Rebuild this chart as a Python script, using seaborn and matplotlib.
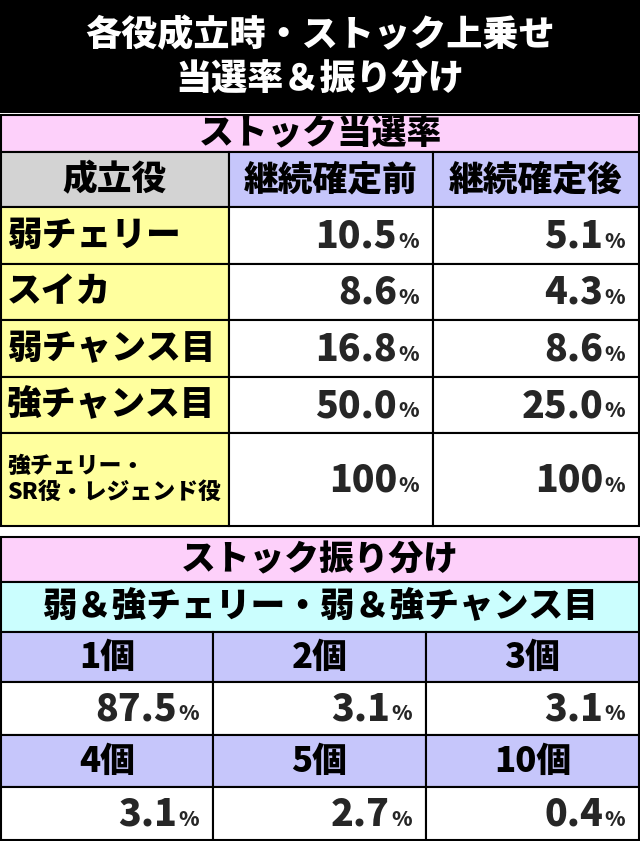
import matplotlib
matplotlib.use("Agg")
import matplotlib.pyplot as plt
import seaborn as sns
from matplotlib.patches import Rectangle

sns.set_theme(style="white")
plt.rcParams['font.family'] = ['Noto Sans CJK JP', 'DejaVu Sans']

title_lines = ["各役成立時・ストック上乗せ", "当選率＆振り分け"]
rate_header = ["成立役", "継続確定前", "継続確定後"]
roles = ["弱チェリー", "スイカ", "弱チャンス目", "強チャンス目", "強チェリー・\nSR役・レジェンド役"]
rate_before = ["10.5", "8.6", "16.8", "50.0", "100"]
rate_after = ["5.1", "4.3", "8.6", "25.0", "100"]
stock_labels = ["1個", "2個", "3個", "4個", "5個", "10個"]
stock_values = ["87.5", "3.1", "3.1", "3.1", "2.7", "0.4"]

PINK, GRAY, LAV, YEL, CYAN = "#fdd0fa", "#d3d3d3", "#c6c6fb", "#ffff9e", "#cbfefe"

fig = plt.figure(figsize=(6.4, 8.41), dpi=100)
ax = fig.add_axes([0, 0, 1, 1])
ax.set_xlim(0, 640)
ax.set_ylim(841, 0)
ax.axis("off")


def cell(x0, y0, x1, y1, color, text=None, size=25, ha="center", pad=8):
    ax.add_patch(Rectangle((x0, y0), x1 - x0, y1 - y0, facecolor=color,
                           edgecolor="black", linewidth=1.5))
    if text is not None:
        tx = (x0 + x1) / 2 if ha == "center" else x0 + pad
        ax.text(tx, (y0 + y1) / 2, text, ha=ha, va="center", fontsize=size,
                fontweight="black", color="black", linespacing=1.15)


def pct(x1, y0, y1, val):
    ym = (y0 + y1) / 2
    ax.text(x1 - 36, ym + 1, val, ha="right", va="center", fontsize=27, fontweight="black")
    ax.text(x1 - 35, ym + 6, "%", ha="left", va="center", fontsize=15, fontweight="black")


# title band
ax.add_patch(Rectangle((0, 0), 640, 113, facecolor="black", edgecolor="none"))
ax.text(320, 35, title_lines[0], ha="center", va="center", fontsize=26, fontweight="black", color="white")
ax.text(320, 80, title_lines[1], ha="center", va="center", fontsize=26, fontweight="black", color="white")

# stock rate table
cell(1, 115, 639, 152, PINK, "ストック当選率", 25)
cols = [1, 229, 433, 639]
cell(cols[0], 152, cols[1], 207, GRAY, rate_header[0], 25)
cell(cols[1], 152, cols[2], 207, LAV, rate_header[1], 25)
cell(cols[2], 152, cols[3], 207, LAV, rate_header[2], 25)

row_edges = [207, 264, 320, 377, 433, 526]
for i, role in enumerate(roles):
    y0, y1 = row_edges[i], row_edges[i + 1]
    small = "\n" in role
    cell(cols[0], y0, cols[1], y1, YEL, role, 16.5 if small else 25, ha="left", pad=6)
    cell(cols[1], y0, cols[2], y1, "white")
    cell(cols[2], y0, cols[3], y1, "white")
    pct(cols[2], y0, y1, rate_before[i])
    pct(cols[3], y0, y1, rate_after[i])

# stock distribution table
cell(1, 537, 639, 582, PINK, "ストック振り分け", 25)
cell(1, 582, 639, 632, CYAN, "弱＆強チェリー・弱＆強チャンス目", 25)
dcols = [1, 213, 426, 639]
drows = [(632, 682, 735), (735, 787, 840)]
for r, (ya, yb, yc) in enumerate(drows):
    for c in range(3):
        k = r * 3 + c
        cell(dcols[c], ya, dcols[c + 1], yb, LAV, stock_labels[k], 25)
        cell(dcols[c], yb, dcols[c + 1], yc, "white")
        pct(dcols[c + 1], yb, yc, stock_values[k])

fig.savefig("out.png", dpi=100)
